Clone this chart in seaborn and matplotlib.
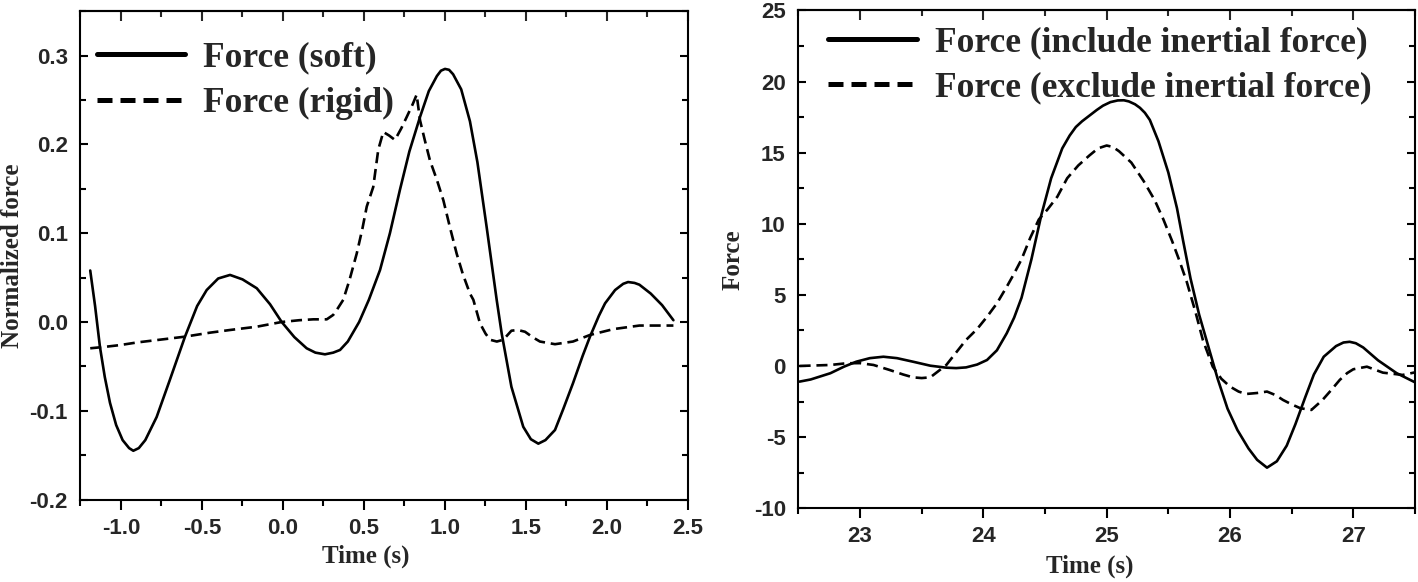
import numpy as np
import pandas as pd
import matplotlib
matplotlib.use("Agg")
import matplotlib.pyplot as plt
import seaborn as sns
from matplotlib.ticker import MultipleLocator, FormatStrFormatter

# ---------------- data ----------------
soft_t = [-1.19, -1.16, -1.13, -1.10, -1.068, -1.03, -0.99, -0.95, -0.924, -0.89, -0.85,
          -0.78, -0.70, -0.605, -0.53, -0.471, -0.40, -0.327, -0.25, -0.162, -0.08, -0.008,
          0.07, 0.146, 0.20, 0.259, 0.31, 0.352, 0.40, 0.47, 0.53, 0.599, 0.66, 0.722, 0.78,
          0.846, 0.90, 0.95, 0.975, 1.0, 1.025, 1.05, 1.10, 1.154, 1.20, 1.257, 1.319, 1.35,
          1.41, 1.483, 1.53, 1.576, 1.62, 1.679, 1.73, 1.79, 1.85, 1.895, 1.95, 1.988, 2.05,
          2.10, 2.13, 2.17, 2.20, 2.27, 2.34, 2.41]
soft_f = [0.058, 0.018, -0.028, -0.062, -0.091, -0.116, -0.133, -0.142, -0.145, -0.142, -0.133,
          -0.107, -0.066, -0.0165, 0.018, 0.036, 0.049, 0.053, 0.048, 0.038, 0.02, 0.0,
          -0.017, -0.0296, -0.0345, -0.0364, -0.0345, -0.0315, -0.022, 0.0, 0.025, 0.0586, 0.10,
          0.149, 0.192, 0.231, 0.260, 0.277, 0.283, 0.285, 0.284, 0.279, 0.262, 0.226, 0.18,
          0.107, 0.025, -0.013, -0.073, -0.118, -0.132, -0.137, -0.133, -0.1216, -0.098,
          -0.069, -0.038, -0.0165, 0.007, 0.021, 0.036, 0.043, 0.045, 0.044, 0.042, 0.032,
          0.019, 0.002]

rigid_t = [-1.19, -1.10, -1.006, -0.90, -0.74, -0.605, -0.45, -0.327, -0.162, -0.008, 0.10,
           0.187, 0.27, 0.31, 0.33, 0.372, 0.41, 0.455, 0.49, 0.517, 0.557, 0.588, 0.619,
           0.655, 0.691, 0.73, 0.764, 0.80, 0.825, 0.846, 0.875, 0.907, 0.95, 0.99, 1.03,
           1.072, 1.11, 1.154, 1.175, 1.216, 1.25, 1.278, 1.32, 1.36, 1.41, 1.45, 1.494,
           1.54, 1.586, 1.679, 1.79, 1.895, 2.04, 2.2, 2.41]
rigid_f = [-0.0296, -0.028, -0.026, -0.023, -0.0195, -0.0165, -0.012, -0.009, -0.0053, 0.0,
           0.002, 0.003, 0.003, 0.008, 0.013, 0.025, 0.047, 0.077, 0.105, 0.13, 0.152, 0.194,
           0.214, 0.21, 0.205, 0.218, 0.231, 0.245, 0.256, 0.227, 0.205, 0.182, 0.16, 0.137,
           0.107, 0.077, 0.054, 0.032, 0.025, -0.0015, -0.013, -0.02, -0.022, -0.02, -0.0098,
           -0.009, -0.011, -0.017, -0.022, -0.025, -0.022, -0.0146, -0.008, -0.004, -0.004]

inc_t = [22.51, 22.6, 22.76, 22.87, 22.97, 23.08, 23.19, 23.3, 23.43, 23.57, 23.70, 23.78,
         23.86, 23.95, 24.03, 24.11, 24.19, 24.25, 24.31, 24.39, 24.47, 24.55, 24.64, 24.70,
         24.75, 24.80, 24.86, 24.92, 24.97, 25.03, 25.09, 25.14, 25.18, 25.23, 25.27, 25.31,
         25.35, 25.42, 25.50, 25.57, 25.62, 25.68, 25.75, 25.83, 25.90, 25.98, 26.06, 26.15,
         26.22, 26.30, 26.38, 26.46, 26.53, 26.61, 26.68, 26.76, 26.86, 26.92, 26.97, 27.02,
         27.08, 27.2, 27.35, 27.5]
inc_f = [-1.1, -0.95, -0.51, -0.05, 0.3, 0.55, 0.65, 0.55, 0.3, 0.02, -0.12, -0.15,
         -0.1, 0.1, 0.42, 1.1, 2.3, 3.4, 4.8, 7.5, 10.6, 13.2, 15.3, 16.2,
         16.8, 17.2, 17.6, 18.0, 18.3, 18.55, 18.67, 18.68, 18.6, 18.4, 18.15, 17.8,
         17.3, 15.8, 13.6, 11.1, 8.8, 6.15, 3.6, 1.2, -0.9, -3.0, -4.5, -5.8,
         -6.6, -7.15, -6.7, -5.6, -4.1, -2.2, -0.6, 0.65, 1.4, 1.65, 1.7, 1.6,
         1.3, 0.4, -0.5, -1.15]

exc_t = [22.51, 22.76, 22.89, 23.0, 23.11, 23.24, 23.35, 23.43, 23.5, 23.57, 23.63, 23.70,
         23.78, 23.86, 23.95, 24.03, 24.11, 24.19, 24.25, 24.31, 24.38, 24.45, 24.52, 24.6,
         24.68, 24.77, 24.86, 24.93, 25.0, 25.05, 25.1, 25.2, 25.3, 25.39, 25.46, 25.53, 25.59,
         25.65, 25.72, 25.78, 25.86, 25.93, 26.0, 26.07, 26.13, 26.22, 26.30, 26.37, 26.43,
         26.5, 26.57, 26.66, 26.75, 26.82, 26.89, 26.95, 27.0, 27.11, 27.24, 27.4, 27.5]
exc_f = [0.0, 0.07, 0.19, 0.2, 0.07, -0.28, -0.6, -0.8, -0.85, -0.8, -0.4, 0.07,
         0.95, 1.83, 2.6, 3.46, 4.4, 5.57, 6.5, 7.5, 9.0, 10.3, 11.0, 11.9,
         13.2, 14.1, 14.8, 15.3, 15.5, 15.4, 15.1, 14.3, 13.0, 11.65, 10.3, 8.8, 7.4,
         5.9, 3.8, 1.83, -0.05, -0.9, -1.45, -1.8, -1.97, -1.9, -1.8, -2.05, -2.39,
         -2.7, -2.97, -3.09, -2.39, -1.7, -0.98, -0.5, -0.23, -0.05, -0.47, -0.63, -0.45]

left_labels = ["Force (soft)", "Force (rigid)"]
right_labels = ["Force (include inertial force)", "Force (exclude inertial force)"]

# ---------------- styling ----------------
sns.set_style("white")
SERIF = ["Liberation Serif", "DejaVu Serif"]
SANS = ["Liberation Sans", "DejaVu Sans"]
plt.rcParams["font.family"] = SANS
plt.rcParams["axes.unicode_minus"] = False

fig = plt.figure(figsize=(14.18, 5.82), dpi=100)
ax1 = fig.add_axes([0.05677, 0.14158, 0.42842, 0.83918])
ax2 = fig.add_axes([0.56298, 0.12680, 0.43491, 0.85533])

LW = 1.9


def draw(ax, t1, f1, t2, f2, labels):
    sns.lineplot(x=t1, y=f1, ax=ax, color="black", lw=LW, linestyle="-",
                 estimator=None, label=labels[0])
    sns.lineplot(x=t2, y=f2, ax=ax, color="black", lw=LW, linestyle=(0, (4.2, 2.2)),
                 estimator=None, label=labels[1])


draw(ax1, soft_t, soft_f, rigid_t, rigid_f, left_labels)
draw(ax2, inc_t, inc_f, exc_t, exc_f, right_labels)


def style_axes(ax, xlim, ylim, xmaj, xmin, ymaj, ymin, fmt=None):
    ax.set_xlim(*xlim)
    ax.set_ylim(*ylim)
    ax.xaxis.set_major_locator(MultipleLocator(xmaj))
    ax.xaxis.set_minor_locator(MultipleLocator(xmin))
    ax.yaxis.set_major_locator(MultipleLocator(ymaj))
    ax.yaxis.set_minor_locator(MultipleLocator(ymin))
    if fmt:
        ax.xaxis.set_major_formatter(FormatStrFormatter(fmt))
        ax.yaxis.set_major_formatter(FormatStrFormatter(fmt))
    for s in ax.spines.values():
        s.set_visible(True)
        s.set_linewidth(1.5)
        s.set_color("black")
    ax.tick_params(axis="x", which="both", direction="out", bottom=True, top=False,
                   width=1.5, color="black", pad=6)
    ax.tick_params(axis="x", which="major", length=7)
    ax.tick_params(axis="x", which="minor", length=4)
    ax.tick_params(axis="y", which="both", direction="in", left=True, right=True,
                   width=1.5, color="black", pad=9)
    ax.tick_params(axis="y", which="major", length=6)
    ax.tick_params(axis="y", which="minor", length=4)
    ax.tick_params(axis="both", labelsize=16)
    for lab in ax.get_xticklabels() + ax.get_yticklabels():
        lab.set_fontfamily(SANS)
        lab.set_fontweight("bold")
    top = ax.secondary_xaxis("top")
    top.xaxis.set_major_locator(MultipleLocator(xmaj))
    top.xaxis.set_minor_locator(MultipleLocator(xmin))
    top.tick_params(axis="x", which="both", direction="in", labeltop=False, width=1.5)
    top.tick_params(axis="x", which="major", length=7)
    top.tick_params(axis="x", which="minor", length=4)
    top.spines["top"].set_linewidth(1.5)


style_axes(ax1, (-1.25, 2.5), (-0.2, 0.35), 0.5, 0.25, 0.1, 0.05, fmt="%.1f")
style_axes(ax2, (22.5, 27.5), (-10, 25), 1, 0.5, 5, 2.5)

for ax in (ax1, ax2):
    for lab in ax.get_xticklabels() + ax.get_yticklabels():
        lab.set_fontfamily(SANS)
        lab.set_fontweight("bold")
        lab.set_fontsize(16)

lab_kw = dict(fontfamily=SERIF, fontweight="bold", fontsize=18)
ax1.set_xlabel("Time (s)", **lab_kw)
ax1.set_ylabel("Normalized force", **lab_kw)
ax2.set_xlabel("Time (s)", **lab_kw)
ax2.set_ylabel("Force", **lab_kw)
ax1.xaxis.set_label_coords(0.469, -0.093)
ax1.yaxis.set_label_coords(-0.093, 0.5)
ax2.xaxis.set_label_coords(0.473, -0.094)
ax2.yaxis.set_label_coords(-0.0864, 0.5)


def legend(ax, anchor):
    leg = ax.legend(loc="upper left", bbox_to_anchor=anchor, frameon=False,
                    borderaxespad=0, borderpad=0, handlelength=2.5, handletextpad=0.5,
                    labelspacing=0.35,
                    prop={"family": SERIF, "weight": "bold", "size": 25.5})
    for ln in leg.get_lines():
        ln.set_linewidth(3.6)
    leg.get_lines()[1].set_dashes((3.0, 1.6))
    return leg


legend(ax1, (0.027, 0.938))
legend(ax2, (0.0486, 0.968))

fig.savefig("out.png", dpi=100)
